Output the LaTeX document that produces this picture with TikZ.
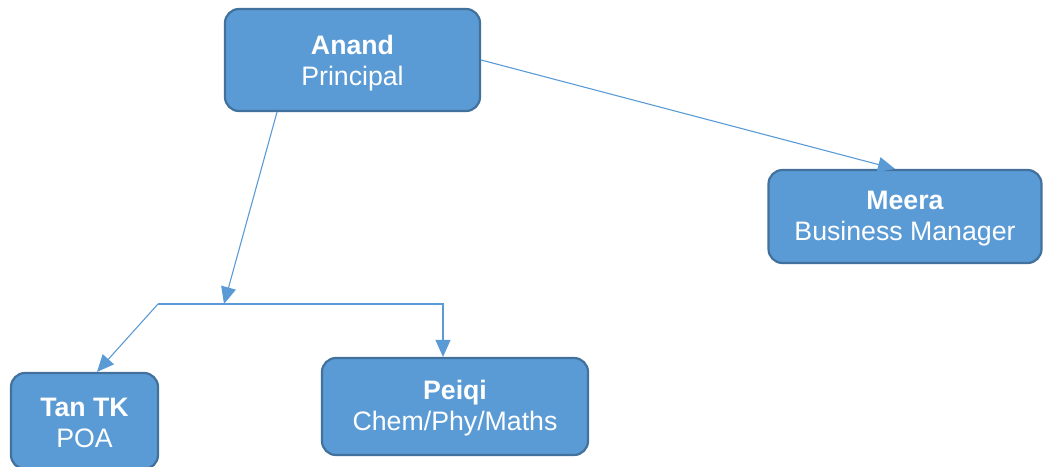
\documentclass[tikz,border=0pt]{standalone}
\usepackage{fontspec}
\setmainfont{Liberation Sans}
\usetikzlibrary{arrows.meta,calc}
\definecolor{boxfill}{HTML}{5B9BD5}
\definecolor{boxline}{HTML}{41719C}
\definecolor{conn}{HTML}{5B9BD5}
\begin{document}
\begin{tikzpicture}[x=1pt,y=-1pt,
  box/.style={draw=boxline, line width=2.2pt, fill=boxfill, rounded corners=14pt, inner sep=0pt},
  txt/.style={text=white, align=center, inner sep=0pt, font=\fontsize{26.7}{31}\selectfont},
  conn/.style={draw=conn, line width=1.1pt},
  arr/.style={conn, -{Triangle[length=17pt,width=15pt]}}]
\useasboundingbox (0,0) rectangle (1043,466);
\node[box, minimum width=255pt, minimum height=102pt] (anand) at (352.5,60) {};
\node[box, minimum width=273pt, minimum height=93pt] (meera) at (905,216.5) {};
\node[box, minimum width=147pt, minimum height=96pt] (tan) at (84.5,421) {};
\node[box, minimum width=266pt, minimum height=97pt] (peiqi) at (455,406.5) {};
\node[txt] (anandt) at ([yshift=-3pt]anand.center) {\textbf{Anand}\\Principal};
\node[txt] (meerat) at ([yshift=-2pt]meera.center) {\textbf{Meera}\\Business Manager};
\node[txt] (tant) at ([yshift=-2pt]tan.center) {\textbf{Tan TK}\\POA};
\node[txt] (peiqit) at ([yshift=-2pt]peiqi.center) {\textbf{Peiqi}\\Chem/Phy/Maths};
\coordinate (j) at (224,304);
\coordinate (jl) at (158,304);
\coordinate (jr) at (443,304);
\draw[arr] ([xshift=-75.5pt]anand.south) -- (j);
\draw[arr] (jl) -- (jr) -- (jr |- peiqi.north);
\draw[arr] (jl) -- ([xshift=12.5pt]tan.north);
\draw[arr] (anand.east) -- ([xshift=-10pt]meera.north);
\end{tikzpicture}
\end{document}
